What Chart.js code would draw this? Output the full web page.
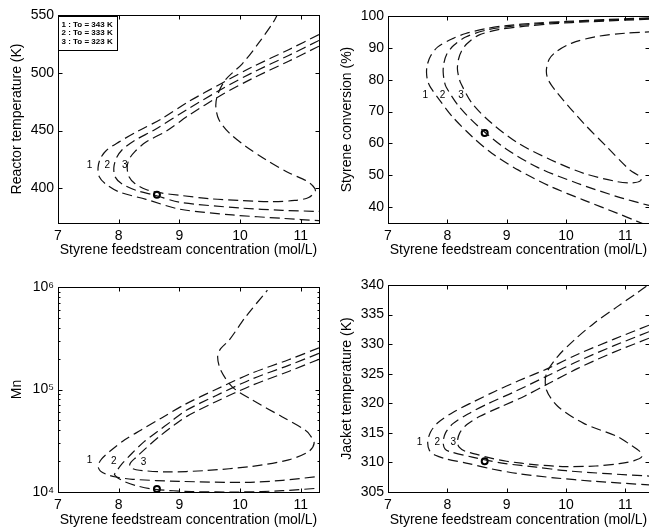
<!DOCTYPE html>
<html>
<head>
<meta charset="utf-8">
<title>Styrene reactor steady states</title>
<script src="https://cdn.jsdelivr.net/npm/chart.js@4.4.0/dist/chart.umd.min.js"></script>
<style>
  html, body { margin: 0; padding: 0; background: #fff; overflow: hidden; }
  body { width: 649px; height: 529px; position: relative; }
  canvas { position: absolute; }
</style>
</head>
<body>
<canvas id="reactorChart" width="325" height="259" style="left:0;top:0"></canvas>
<canvas id="conversionChart" width="325" height="259" style="left:330px;top:0"></canvas>
<canvas id="mnChart" width="325" height="270" style="left:0;top:259px"></canvas>
<canvas id="jacketChart" width="325" height="270" style="left:330px;top:259px"></canvas>
<script>
// steady-state branches, [feed concentration (mol/L), value]
// curve 1: To = 343 K, curve 2: To = 333 K, curve 3: To = 323 K
const reactorT1 = [[11.3,533],[10.8,520],[10.2,505],[9.7,491],[9.15,475],[8.7,460],[8.3,449],[8.0,440],[7.8,433],[7.7,426],[7.66,418],[7.68,410],[7.78,404],[8.0,397],[8.45,390.5],[9.0,382],[9.87,377],[10.7,374],[11.3,372]];
const reactorT2 = [[11.3,528],[10.8,515],[10.2,500],[9.7,486],[9.15,469],[8.6,451],[8.25,441],[8.05,433],[7.96,426],[7.92,418],[7.94,410],[8.05,404],[8.3,398],[8.6,394],[9.0,388],[10,383],[10.7,381],[11.3,380]];
const reactorT3 = [[11.3,523],[10.8,510],[10.2,495],[9.7,481],[9.15,463],[8.8,450],[8.45,440],[8.27,432],[8.17,425],[8.14,418],[8.17,410],[8.27,404],[8.45,399],[8.7,396],[9.0,394],[9.5,391],[10,389.5],[10.5,388.5],[10.9,389.5],[11.13,392],[11.24,398],[11.2,402],[11.1,406.3],[10.8,413.5],[10.42,425],[10.09,436.5],[9.82,448],[9.65,459.5],[9.6,471],[9.63,481],[9.76,494],[10.04,508],[10.31,526],[10.55,544],[10.62,551]];

const conversion1 = [[11.4,99.4],[10.7,98.9],[10,98.3],[9.5,97.8],[9.0,97],[8.64,96],[8.31,94.5],[8.09,92.9],[7.84,90.3],[7.72,87.5],[7.66,84.5],[7.65,82],[7.67,79.5],[7.72,77.5],[7.87,73.6],[8.09,68.3],[8.42,62.1],[8.75,56.9],[9.2,51.6],[9.75,46.4],[10.3,42.2],[10.86,38.1],[11.19,35.6],[11.4,34]];
const conversion2 = [[11.4,99.2],[10.7,98.7],[10,98.1],[9.5,97.5],[9.0,96.6],[8.64,95.5],[8.31,93.4],[8.11,90.8],[7.99,88],[7.94,85],[7.93,82.4],[7.95,79.5],[7.98,77.7],[8.2,71.5],[8.53,65.2],[8.98,58.4],[9.53,52.4],[10.19,47.5],[10.86,43.3],[11.4,40.5]];
const conversion3 = [[11.4,99],[10.4,98.2],[9.8,97.6],[9.31,96.8],[8.86,95.7],[8.53,94],[8.33,91.3],[8.24,89],[8.19,86.5],[8.17,83.5],[8.19,81],[8.23,78.8],[8.42,72.5],[8.75,66.3],[9.2,60],[9.75,54.8],[10.3,50.6],[10.86,48],[11.12,47.6],[11.26,48.3],[11.25,49.5],[11.08,51.6],[10.69,58.9],[10.3,66.3],[9.86,75.7],[9.7,80],[9.67,83],[9.72,86.5],[9.85,89],[10.1,91.5],[10.5,93.5],[11,94.6],[11.4,95]];

const mn1 = [[11.3,2.55e5],[10.8,1.95e5],[10.2,1.45e5],[9.6,1.0e5],[9.1,7.2e4],[8.7,5.25e4],[8.37,4.03e4],[8.1,3.23e4],[7.85,2.48e4],[7.72,2.1e4],[7.66,1.8e4],[7.7,1.6e4],[7.82,1.47e4],[7.95,1.4e4],[8.23,1.33e4],[9.0,1.27e4],[10.1,1.24e4],[10.7,1.3e4],[11.3,1.42e4]];
const mn2 = [[11.3,2.25e5],[10.8,1.72e5],[10.2,1.27e5],[9.6,8.7e4],[9.1,6.2e4],[8.86,4.86e4],[8.64,3.89e4],[8.42,3.1e4],[8.22,2.39e4],[8.04,1.84e4],[7.95,1.55e4],[7.93,1.48e4],[7.98,1.38e4],[8.1,1.26e4],[8.32,1.14e4],[8.6,1.06e4],[9.2,1.01e4],[10,1.0e4],[10.7,1.03e4],[11.3,1.09e4]];
const mn3 = [[11.3,1.97e5],[10.8,1.5e5],[10.2,1.1e5],[9.6,7.6e4],[9.13,5.5e4],[8.92,4.52e4],[8.67,3.48e4],[8.45,2.68e4],[8.29,2.19e4],[8.2,1.95e4],[8.18,1.8e4],[8.22,1.7e4],[8.34,1.63e4],[8.78,1.57e4],[9.44,1.62e4],[10.2,1.78e4],[10.8,2.06e4],[11.13,2.48e4],[11.22,3.0e4],[11.15,3.6e4],[11.07,4.03e4],[10.69,5.43e4],[10.2,7.9e4],[9.87,1.06e5],[9.68,1.55e5],[9.63,2.08e5],[9.68,2.5e5],[9.82,3.03e5],[10.09,5.1e5],[10.45,9.3e5]];

const jacketT1 = [[11.4,333.2],[10.8,330.8],[10.2,328.3],[9.7,325.9],[9.2,323.8],[8.8,322],[8.45,320.3],[8.1,318.5],[7.85,316.8],[7.72,315.2],[7.67,313.5],[7.7,312],[7.8,311.2],[7.98,310.6],[8.36,309.8],[8.75,308.9],[9.2,308.1],[9.8,307.4],[10.5,306.8],[11.4,306.2]];
const jacketT2 = [[11.4,332.1],[10.8,329.7],[10.2,327.1],[9.7,324.7],[9.1,321.8],[8.7,320],[8.35,318.2],[8.1,316.6],[7.97,315],[7.93,313.4],[7.96,312.3],[8.05,311.8],[8.42,310.9],[8.7,310.3],[8.98,309.8],[9.5,309.2],[10,308.6],[10.7,308.1],[11.4,307.7]];
const jacketT3 = [[11.4,331],[10.8,328.6],[10.2,325.9],[9.7,323.3],[9.3,321.2],[8.9,319.4],[8.55,317.8],[8.33,316.4],[8.21,315],[8.17,313.5],[8.2,312.6],[8.3,311.9],[8.48,311.4],[8.7,310.8],[9.0,310.2],[9.5,309.6],[10,309.3],[10.5,309.4],[10.9,309.8],[11.15,310.3],[11.28,311],[11.24,311.9],[11.1,312.9],[10.86,314.4],[10.3,316.6],[9.86,319.5],[9.67,322.3],[9.67,325],[9.86,327.9],[10.14,330.7],[10.47,333.5],[10.86,336.3],[11.19,338.6],[11.4,340.1]];

// operating point
const operatingPoint = { feed: 8.63, reactorT: 394.5, conversion: 63.3, mn: 1.07e4, jacketT: 310.2 };

// axis ticks
const feedTicks = [7, 8, 9, 10, 11];
const reactorTicks = [400, 450, 500, 550];
const conversionTicks = [40, 50, 60, 70, 80, 90, 100];
const mnTicks = [1e4, 1e5, 1e6];
const jacketTicks = [305, 310, 315, 320, 325, 330, 335, 340];

const legendLines = ['1 : To = 343 K', '2 : To = 333 K', '3 : To = 323 K'];
const feedTitle = 'Styrene feedstream concentration (mol/L)';

const FONT = '"Liberation Sans", Arial, Helvetica, sans-serif';
Chart.defaults.font.family = FONT;
Chart.defaults.font.size = 14;
Chart.defaults.color = '#000';

const SUP = { 4: '\u2074', 5: '\u2075', 6: '\u2076' };

// matlab-style box: frame, inward ticks on all sides, curve numbers, legend
const axesBox = {
  id: 'axesBox',
  afterDatasetsDraw(chart, args, opts) {
    const { ctx, chartArea: a } = chart;
    const x = chart.scales.x, y = chart.scales.y;
    const L = Math.round(a.left) + 0.5, R = Math.round(a.right) + 0.5;
    const T = Math.round(a.top) + 0.5, B = Math.round(a.bottom) + 0.5;
    ctx.save();
    ctx.strokeStyle = '#000';
    ctx.lineWidth = 1;
    ctx.beginPath();
    const tickX = (v, len) => {
      const p = Math.round(x.getPixelForValue(v)) + 0.5;
      ctx.moveTo(p, B); ctx.lineTo(p, B - len);
      ctx.moveTo(p, T); ctx.lineTo(p, T + len);
    };
    const tickY = (v, len) => {
      const p = Math.round(y.getPixelForValue(v)) + 0.5;
      ctx.moveTo(L, p); ctx.lineTo(L + len, p);
      ctx.moveTo(R, p); ctx.lineTo(R - len, p);
    };
    x.ticks.forEach(t => tickX(t.value, 4));
    y.ticks.forEach(t => tickY(t.value, 4));
    (opts.minor || []).forEach(v => tickY(v, 2));
    ctx.stroke();
    ctx.strokeRect(L, T, R - L, B - T);

    ctx.fillStyle = '#000';
    ctx.font = '10px ' + FONT;
    ctx.textAlign = 'center';
    ctx.textBaseline = 'middle';
    (opts.labels || []).forEach(l => {
      ctx.fillText(l.text, x.getPixelForValue(l.x), y.getPixelForValue(l.y));
    });

    if (opts.legend) {
      ctx.fillStyle = '#fff';
      ctx.fillRect(L, T + 1, 59, 34);
      ctx.strokeRect(L, T + 1, 59, 34);
      ctx.fillStyle = '#000';
      ctx.font = 'bold 8px ' + FONT;
      ctx.textAlign = 'left';
      opts.legend.forEach((s, i) => ctx.fillText(s, L + 3, T + 9 + i * 8.4));
    }
    ctx.restore();
  }
};

function panel(id, o) {
  const datasets = o.curves.map(c => ({
    data: c.map(([x, y]) => ({ x, y })),
    showLine: true,
    pointRadius: 0,
    borderColor: '#111',
    borderWidth: 1.2,
    borderDash: [10, 5],
    tension: 0.3
  }));
  datasets.push({
    data: [{ x: operatingPoint.feed, y: o.point }],
    pointRadius: 3,
    borderWidth: 2,
    borderColor: '#000',
    backgroundColor: '#fff',
    clip: false
  });
  const canvas = document.getElementById(id);
  return new Chart(canvas, {
    type: 'scatter',
    data: { datasets },
    options: {
      responsive: false,
      animation: false,
      events: [],
      layout: { padding: { left: 0, top: o.top, right: 4, bottom: 0 } },
      plugins: {
        legend: { display: false },
        tooltip: { enabled: false },
        axesBox: { labels: o.labels, minor: o.minor, legend: o.legend }
      },
      scales: {
        x: {
          type: 'linear', min: 7, max: o.xMax,
          afterBuildTicks: s => { s.ticks = feedTicks.map(v => ({ value: v })); },
          afterFit: s => { s.height = canvas.height - o.bottom; },
          grid: { display: false, drawTicks: false },
          border: { display: false },
          ticks: { padding: 5, maxRotation: 0, autoSkip: false },
          title: { display: true, text: feedTitle, padding: 0 }
        },
        y: {
          type: o.log ? 'logarithmic' : 'linear', min: o.yMin, max: o.yMax,
          afterBuildTicks: s => { s.ticks = o.yTicks.map(v => ({ value: v })); },
          afterFit: s => { s.width = 58; },
          grid: { display: false, drawTicks: false },
          border: { display: false },
          ticks: {
            padding: 4,
            autoSkip: false,
            callback: o.log ? v => '10' + SUP[Math.round(Math.log10(v))] : v => String(v)
          },
          title: { display: true, text: o.yTitle, padding: { top: 9, bottom: 0 } }
        }
      }
    },
    plugins: [axesBox]
  });
}

panel('reactorChart', {
  curves: [reactorT1, reactorT2, reactorT3], point: operatingPoint.reactorT,
  yMin: 370, yMax: 550, yTicks: reactorTicks, yTitle: 'Reactor temperature (K)',
  xMax: 11.3, top: 15, bottom: 223, legend: legendLines,
  labels: [{ x: 7.52, y: 420, text: '1' }, { x: 7.81, y: 420, text: '2' }, { x: 8.1, y: 420, text: '3' }]
});

panel('conversionChart', {
  curves: [conversion1, conversion2, conversion3], point: operatingPoint.conversion,
  yMin: 35, yMax: 100, yTicks: conversionTicks, yTitle: 'Styrene conversion (%)',
  xMax: 11.4, top: 16, bottom: 223,
  labels: [{ x: 7.63, y: 75, text: '1' }, { x: 7.92, y: 75, text: '2' }, { x: 8.23, y: 75, text: '3' }]
});

// minor decade ticks for the log axis
const mnMinor = [];
for (let e = 4; e < 6; e++) {
  for (let k = 2; k <= 9; k++) mnMinor.push(k * Math.pow(10, e));
}

panel('mnChart', {
  curves: [mn1, mn2, mn3], point: operatingPoint.mn, log: true,
  yMin: 1e4, yMax: 1e6, yTicks: mnTicks, yTitle: 'Mn', minor: mnMinor,
  xMax: 11.3, top: 28, bottom: 233,
  labels: [{ x: 7.52, y: 2.03e4, text: '1' }, { x: 7.92, y: 1.98e4, text: '2' }, { x: 8.41, y: 1.95e4, text: '3' }]
});

panel('jacketChart', {
  curves: [jacketT1, jacketT2, jacketT3], point: operatingPoint.jacketT,
  yMin: 305, yMax: 340, yTicks: jacketTicks, yTitle: 'Jacket temperature (K)',
  xMax: 11.4, top: 26, bottom: 233,
  labels: [{ x: 7.53, y: 313.4, text: '1' }, { x: 7.83, y: 313.4, text: '2' }, { x: 8.1, y: 313.4, text: '3' }]
});
</script>
</body>
</html>
